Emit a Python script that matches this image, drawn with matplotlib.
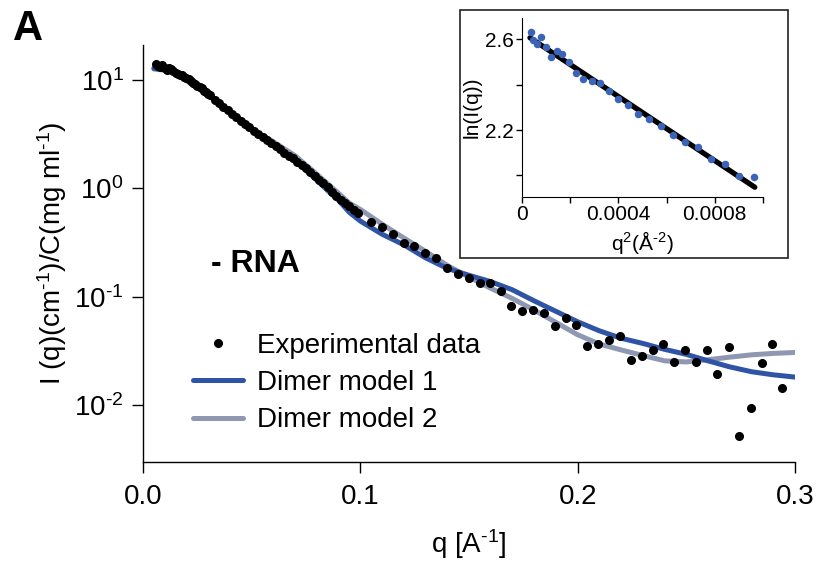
import matplotlib
matplotlib.use('Agg')
import matplotlib.pyplot as plt
from matplotlib.lines import Line2D
from matplotlib.patches import Rectangle
from matplotlib.ticker import NullLocator

plt.rcParams['font.family'] = ['Liberation Sans', 'DejaVu Sans']
plt.rcParams['mathtext.fontset'] = 'custom'
plt.rcParams['mathtext.rm'] = 'Liberation Sans'
plt.rcParams['mathtext.it'] = 'Liberation Sans:italic'
plt.rcParams['mathtext.bf'] = 'Liberation Sans:bold'
plt.rcParams['mathtext.default'] = 'regular'

# ---------------- data ----------------
q_exp = [0.0060, 0.0069, 0.0080, 0.0089, 0.0099, 0.0110, 0.0120, 0.0129, 0.0140, 0.0150,
         0.0159, 0.0170, 0.0179, 0.0190, 0.0200, 0.0210, 0.0220, 0.0230, 0.0240, 0.0250,
         0.0260, 0.0270, 0.0280, 0.0290, 0.0300, 0.0310,
         0.033, 0.035, 0.037, 0.039, 0.041, 0.043, 0.045, 0.047, 0.049, 0.051,
         0.053, 0.055, 0.057, 0.059, 0.061, 0.063, 0.065, 0.067, 0.069, 0.071,
         0.073, 0.075, 0.077, 0.079, 0.081, 0.083, 0.085, 0.087, 0.089, 0.091,
         0.093, 0.095, 0.097,
         0.0991, 0.1048, 0.1098, 0.1149, 0.1201, 0.1249, 0.1298, 0.1347, 0.1398, 0.1448,
         0.1499, 0.1549, 0.1597, 0.1646, 0.1695, 0.1746, 0.1796, 0.1847, 0.1896, 0.1945,
         0.1994, 0.2045, 0.2095, 0.2146, 0.2195, 0.2246, 0.2295, 0.2346, 0.2394, 0.2445,
         0.2494, 0.2545, 0.2594, 0.2643, 0.2697, 0.2744, 0.2797, 0.2847, 0.2893, 0.2942]
i_exp = [13.9, 13.4, 13.2, 13.6, 13.0, 12.4, 12.8, 12.6, 12.2, 11.6,
         11.3, 11.2, 11.1, 10.7, 10.4, 10.1, 9.70, 9.47, 9.18, 8.83,
         8.57, 8.38, 7.94, 7.78, 7.37, 7.32,
         6.55, 6.10, 5.68, 5.27, 4.89, 4.55, 4.22, 3.94, 3.65, 3.38,
         3.15, 2.96, 2.78, 2.60, 2.44, 2.29, 2.14, 2.01, 1.89, 1.77,
         1.66, 1.54, 1.41, 1.29, 1.19, 1.11, 1.02, 0.93, 0.85, 0.786,
         0.733, 0.682, 0.636,
         0.591, 0.494, 0.445, 0.378, 0.316, 0.297, 0.253, 0.227, 0.184, 0.163,
         0.149, 0.135, 0.134, 0.114, 0.0826, 0.0743, 0.0759, 0.0717, 0.0541, 0.0640,
         0.0548, 0.0353, 0.0369, 0.0402, 0.0431, 0.0262, 0.0287, 0.0325, 0.0366, 0.0252,
         0.0323, 0.0252, 0.0323, 0.0194, 0.0348, 0.00524, 0.00942, 0.0247, 0.0369, 0.0143]

q_model = [0.005, 0.010, 0.015, 0.020, 0.030, 0.040, 0.050, 0.060, 0.070, 0.080,
           0.085, 0.090, 0.095, 0.100, 0.110, 0.120, 0.130, 0.140, 0.150, 0.160,
           0.170, 0.180, 0.190, 0.200, 0.210, 0.220, 0.230, 0.240, 0.250, 0.260,
           0.270, 0.280, 0.290, 0.300]
i_model1 = [12.8, 12.4, 11.5, 10.0, 7.24, 5.07, 3.51, 2.51, 1.80, 1.19,
            0.955, 0.776, 0.600, 0.500, 0.378, 0.302, 0.229, 0.183, 0.158, 0.138,
            0.116, 0.0918, 0.0735, 0.0589, 0.0486, 0.0415, 0.0372, 0.0328, 0.0295, 0.0257,
            0.0226, 0.0204, 0.0191, 0.0182]
i_model2 = [12.6, 12.3, 11.4, 9.9, 7.24, 5.07, 3.55, 2.69, 2.00, 1.35,
            1.10, 0.90, 0.731, 0.640, 0.468, 0.349, 0.263, 0.195, 0.152, 0.120,
            0.0964, 0.0755, 0.0581, 0.0447, 0.0367, 0.0324, 0.0288, 0.0257, 0.0251, 0.0263,
            0.0278, 0.0292, 0.0301, 0.0307]

# Guinier inset
q2_guinier = [3.59e-5, 4.70e-5, 6.36e-5, 7.88e-5, 9.81e-5, 1.202e-4, 1.437e-4, 1.672e-4,
              1.948e-4, 2.238e-4, 2.542e-4, 2.888e-4, 3.219e-4, 3.606e-4, 3.993e-4,
              4.394e-4, 4.822e-4, 5.278e-4, 5.748e-4, 6.245e-4, 6.743e-4, 7.295e-4,
              7.834e-4, 8.415e-4, 8.995e-4, 9.617e-4]
ln_guinier = [2.634, 2.597, 2.578, 2.609, 2.565, 2.521, 2.548, 2.534, 2.501, 2.450,
              2.423, 2.416, 2.406, 2.372, 2.339, 2.310, 2.272, 2.248, 2.217, 2.178,
              2.148, 2.126, 2.072, 2.052, 1.998, 1.991]
q2_fit = [0.000033, 0.000966]
ln_fit = [2.607, 1.948]

labels = ['Experimental data', 'Dimer model 1', 'Dimer model 2']
blue = '#2F54A5'
gray = '#8F98B2'
dot_blue = '#3B64B8'

W, H = 816, 562
fig = plt.figure(figsize=(W / 100, H / 100), dpi=100)

# ---------------- main axes ----------------
ax = fig.add_axes([143 / W, (H - 462) / H, (795 - 143) / W, (462 - 45) / H])
ax.set_yscale('log')
ax.plot(q_model, i_model2, color=gray, lw=3.6, solid_capstyle='round', zorder=2)
ax.plot(q_model, i_model1, color=blue, lw=3.6, solid_capstyle='round', zorder=3)
ax.plot(q_exp, i_exp, ls='none', marker='o', color='black', ms=5.5, zorder=4)
ax.set_xlim(0, 0.3)
ax.set_ylim(0.003, 21)
for s in ['top', 'right']:
    ax.spines[s].set_visible(False)
for s in ['left', 'bottom']:
    ax.spines[s].set_linewidth(1.0)
ax.set_xticks([0, 0.1, 0.2, 0.3])
ax.set_xticklabels(['0.0', '0.1', '0.2', '0.3'])
ax.set_yticks([10, 1, 0.1, 0.01])
ax.set_yticklabels([r'$10^{1}$', r'$10^{0}$', r'$10^{\text{-}1}$', r'$10^{\text{-}2}$'])
ax.yaxis.set_minor_locator(NullLocator())
ax.tick_params(direction='out', length=8, width=1.0, labelsize=20)
ax.tick_params(axis='x', pad=8)
ax.tick_params(axis='y', pad=6)
ax.set_xlabel(r'q [A$^{\text{-}1}$]', fontsize=20, labelpad=12)
ax.set_ylabel(r'I (q)(cm$^{\text{-}1}$)/C(mg ml$^{\text{-}1}$)', fontsize=20, labelpad=4)

handles = [Line2D([], [], ls='none', marker='o', color='black', ms=5.5),
           Line2D([], [], color=blue, lw=3.6, solid_capstyle='round'),
           Line2D([], [], color=gray, lw=3.6, solid_capstyle='round')]
fig.legend(handles, labels, loc='upper left', bbox_to_anchor=(193 / W, 1 - 333 / H),
           frameon=False, fontsize=20, handlelength=1.8, handletextpad=0.5,
           labelspacing=0.4, borderpad=0, borderaxespad=0)

fig.text(13 / W, 1 - 40 / H, 'A', fontsize=30, fontweight='bold', va='baseline')
fig.text(211 / W, 1 - 272 / H, '- RNA', fontsize=23, fontweight='bold', va='baseline')

# ---------------- inset ----------------
fig.add_artist(Rectangle((460 / W, 1 - 258 / H), 328 / W, 248 / H, transform=fig.transFigure,
                         fill=False, edgecolor='#222222', lw=1.2))
axin = fig.add_axes([522 / W, 1 - 197 / H, (763 - 522) / W, (197 - 18) / H])
axin.plot(q2_fit, ln_fit, color='black', lw=3.8, solid_capstyle='round', zorder=2)
axin.plot(q2_guinier, ln_guinier, ls='none', marker='o', color=dot_blue, ms=4.4, zorder=3)
axin.set_xlim(0, 0.001)
axin.set_ylim(1.905, 2.694)
for s in ['top', 'right']:
    axin.spines[s].set_visible(False)
axin.set_xticks([0, 0.0002, 0.0004, 0.0006, 0.0008, 0.001])
axin.set_xticklabels(['0', '', '0.0004', '', '0.0008', ''])
axin.set_yticks([2.0, 2.2, 2.4, 2.6])
axin.set_yticklabels(['', '2.2', '', '2.6'])
axin.tick_params(direction='out', length=4, width=1.0, labelsize=15, pad=2)
axin.set_xlabel(r'q$^{2}$(Å$^{\text{-}2}$)', fontsize=15, labelpad=3)
axin.set_ylabel('ln(I(q))', fontsize=15, labelpad=2)

fig.savefig('out.png', dpi=100)
